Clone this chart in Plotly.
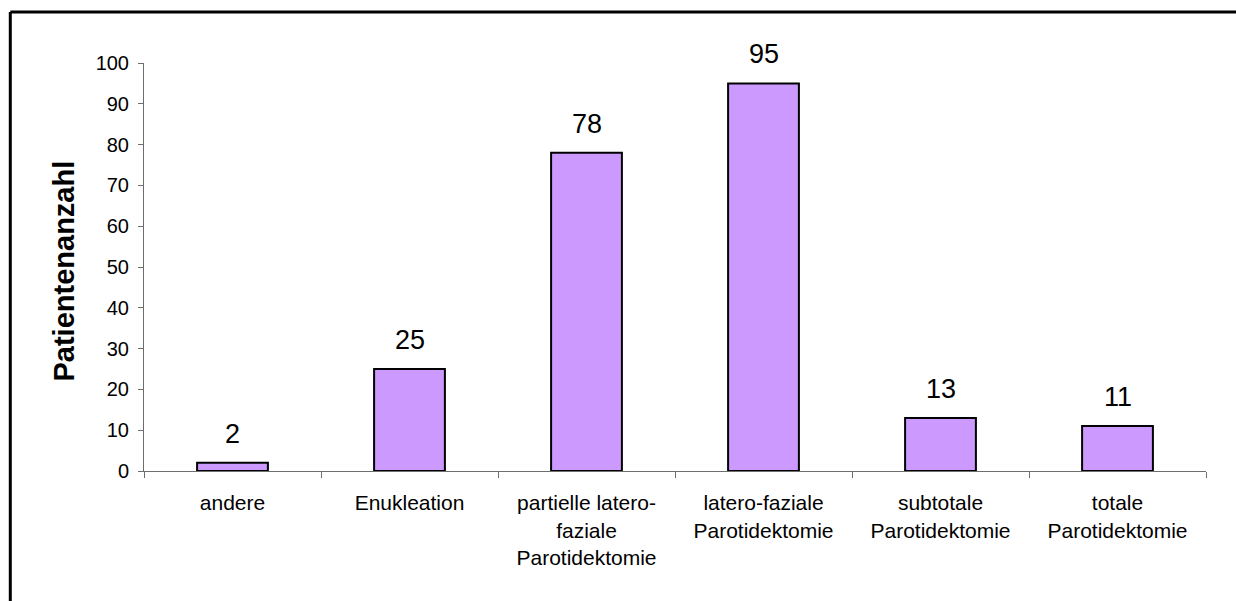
import plotly.graph_objects as go

# Operationsverfahren und Anzahl der Patienten
categories = [
    "andere",
    "Enukleation",
    "partielle latero-<br>faziale<br>Parotidektomie",
    "latero-faziale<br>Parotidektomie",
    "subtotale<br>Parotidektomie",
    "totale<br>Parotidektomie",
]
patients = [2, 25, 78, 95, 13, 11]
y_ticks = list(range(0, 101, 10))

FONT = "Liberation Sans, Arial, sans-serif"
AXIS_GREY = "#6e6e6e"

fig = go.Figure(
    go.Bar(
        x=categories,
        y=patients,
        width=0.4,
        marker=dict(color="#CC99FF", line=dict(color="black", width=2)),
        hoverinfo="x+y",
    )
)

# value labels above each bar
for cat, val in zip(categories, patients):
    fig.add_annotation(
        x=cat, y=val, xref="x", yref="y",
        text=str(val), showarrow=False,
        yanchor="bottom", yshift=12,
        font=dict(family=FONT, size=27, color="black"),
    )

# rotated axis title
fig.add_annotation(
    x=-0.0753, y=0.489, xref="paper", yref="paper",
    text="<b>Patientenanzahl</b>", showarrow=False, textangle=-90,
    xanchor="center", yanchor="middle",
    font=dict(family=FONT, size=29, color="black"),
)

# outer chart frame: left and top edges (the others lie off the page)
frame = dict(color="black", width=3)
fig.add_shape(type="line", xref="paper", yref="paper",
              x0=-0.1259, x1=-0.1259, y0=-0.5, y1=1.125, line=frame)
fig.add_shape(type="line", xref="paper", yref="paper",
              x0=-0.1259, x1=1.2, y0=1.125, y1=1.125, line=frame)

fig.update_layout(
    width=1236, height=601,
    margin=dict(l=144, r=30, t=63, b=130),
    paper_bgcolor="white", plot_bgcolor="white",
    showlegend=False,
    font=dict(family=FONT, color="black"),
    bargap=0.6,
)

fig.update_xaxes(
    showline=True, linecolor=AXIS_GREY, linewidth=1,
    ticks="outside", tickson="boundaries", ticklen=6,
    tickcolor=AXIS_GREY, tickwidth=1,
    tickfont=dict(family=FONT, size=21, color="black"),
    ticklabelstandoff=13,
    showgrid=False, zeroline=False,
)
fig.update_yaxes(
    range=[0, 100], tickvals=y_ticks,
    showline=True, linecolor=AXIS_GREY, linewidth=1,
    ticks="outside", ticklen=5, tickcolor=AXIS_GREY, tickwidth=1,
    tickfont=dict(family=FONT, size=20, color="black"),
    ticklabelstandoff=5,
    showgrid=False, zeroline=False,
)

fig.write_html("out.html", config={"displayModeBar": False})
